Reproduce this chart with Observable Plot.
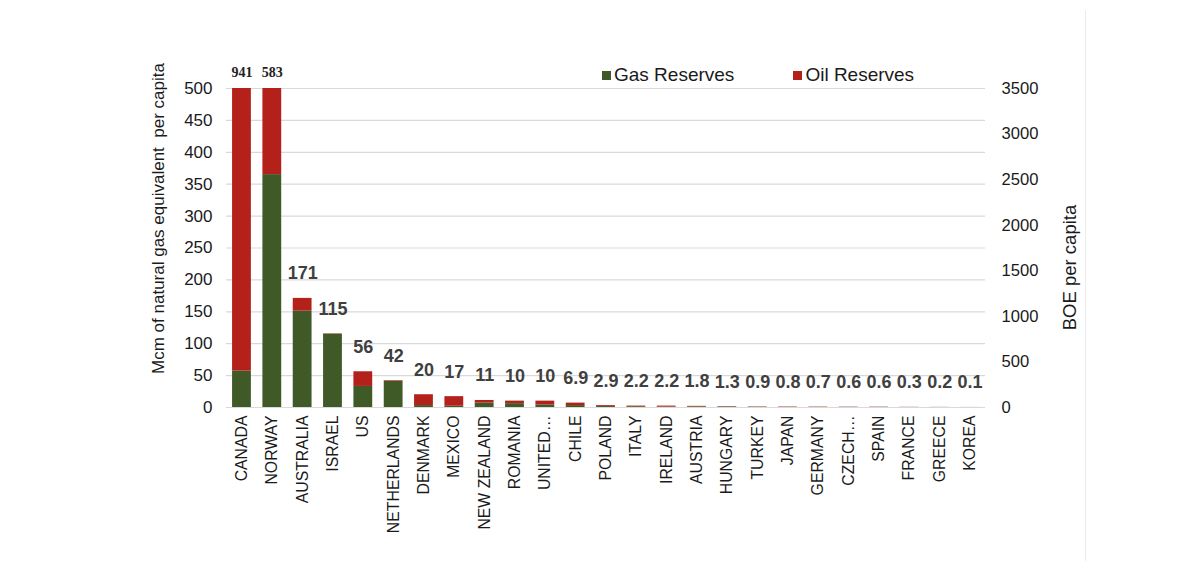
<!DOCTYPE html>
<html>
<head>
<meta charset="utf-8">
<script src="https://cdn.jsdelivr.net/npm/d3@7"></script>
<script src="https://cdn.jsdelivr.net/npm/@observablehq/plot@0.6"></script>
<style>
  html, body { margin: 0; padding: 0; background: #fff; }
  #wrap { position: relative; width: 1200px; height: 561px; overflow: hidden; font-family: Arial, "Liberation Sans", sans-serif; }
  #edge { position: absolute; left: 1085px; top: 10px; width: 1px; height: 551px; background: #ececec; }
  #legend { position: absolute; top: 64px; left: 602px; display: flex; gap: 59px; font-size: 19px; color: #1a1a1a; }
  #legend span.sw { display: inline-block; width: 9px; height: 9px; margin-right: 3px; vertical-align: 1px; }
</style>
</head>
<body>
<div id="wrap">
  <div id="chart"></div>
  <div id="legend"></div>
  <div id="edge"></div>
</div>
<script>
const countries = ["CANADA","NORWAY","AUSTRALIA","ISRAEL","US","NETHERLANDS","DENMARK","MEXICO","NEW ZEALAND","ROMANIA","UNITED…","CHILE","POLAND","ITALY","IRELAND","AUSTRIA","HUNGARY","TURKEY","JAPAN","GERMANY","CZECH…","SPAIN","FRANCE","GREECE","KOREA"];
const totals = [941,583,171,115,56,42,20,17,11,10,10,6.9,2.9,2.2,2.2,1.8,1.3,0.9,0.8,0.7,0.6,0.6,0.3,0.2,0.1];
const totalLabels = ["941","583","171","115","56","42","20","17","11","10","10","6.9","2.9","2.2","2.2","1.8","1.3","0.9","0.8","0.7","0.6","0.6","0.3","0.2","0.1"];
const gasReserves = [57,365,151,115,33,41,3,2,7,6,4,3,1.5,1.2,0.8,1.0,0.9,0.5,0.3,0.3,0.3,0.3,0.1,0.1,0.05];
const oilReserves = [884,218,20,0.5,23,1,17,15,4,4,6,3.9,1.4,1.0,1.4,0.8,0.4,0.4,0.5,0.4,0.3,0.3,0.2,0.1,0.05];
const seriesNames = ["Gas Reserves","Oil Reserves"];
const seriesColors = ["#3f5a27","#b4211b"];
const leftTicks = [0,50,100,150,200,250,300,350,400,450,500];
const rightTicks = [0,500,1000,1500,2000,2500,3000,3500];
const boeRatio = 7;
const yMax = 500;

const stacked = [];
countries.forEach((c, i) => {
  stacked.push({country: c, series: seriesNames[0], value: gasReserves[i]});
  stacked.push({country: c, series: seriesNames[1], value: oilReserves[i]});
});
const labelRows = countries.map((c, i) => ({country: c, total: totals[i], label: totalLabels[i], top: Math.min(totals[i], yMax), clipped: totals[i] > yMax}));

const chart = Plot.plot({
  width: 1200,
  height: 561,
  marginLeft: 226,
  marginRight: 215,
  marginTop: 88,
  marginBottom: 154,
  style: {fontFamily: "Arial, 'Liberation Sans', sans-serif", color: "#1a1a1a", background: "#fff"},
  x: {domain: countries, paddingInner: 0.38, paddingOuter: 0.2, round: false, label: null},
  y: {domain: [0, yMax], clamp: true, label: null},
  color: {domain: seriesNames, range: seriesColors},
  marks: [
    Plot.gridY(leftTicks, {stroke: "#d9d9d9", strokeOpacity: 1, strokeWidth: 1.2}),
    Plot.barY(stacked, {x: "country", y: "value", fill: "series", order: seriesNames}),
    Plot.axisY({ticks: leftTicks, tickSize: 0, tickPadding: 14, fontSize: 17, label: null}),
    Plot.axisY({anchor: "right", ticks: rightTicks.map(t => t / boeRatio), tickFormat: d => String(Math.round(d * boeRatio)), tickSize: 0, tickPadding: 16, fontSize: 16.6, label: null, textAnchor: "start"}),
    Plot.axisX({tickSize: 0, tickPadding: 8, tickRotate: -90, fontSize: 15.8, label: null}),
    Plot.text(labelRows.filter(d => !d.clipped), {x: "country", y: "top", text: "label", dy: -19, lineAnchor: "bottom", fontSize: 18, fontWeight: "bold", fill: "#404040"}),
    Plot.text(labelRows.filter(d => d.clipped), {x: "country", y: "top", text: "label", dy: -12, lineAnchor: "bottom", fontSize: 14, fontWeight: "bold", fill: "#222", fontFamily: "'Liberation Serif', 'DejaVu Serif', serif"}),
    Plot.text(["Mcm of natural gas equivalent  per capita"], {frameAnchor: "left", textAnchor: "middle", dx: -68, dy: -29.5, rotate: -90, fontSize: 17, fill: "#1a1a1a"}),
    Plot.text(["BOE per capita"], {frameAnchor: "right", textAnchor: "middle", dx: 85, dy: 19.5, rotate: -90, fontSize: 18.5, fill: "#1a1a1a"})
  ]
});
document.getElementById("chart").appendChild(chart);

const legend = document.getElementById("legend");
seriesNames.forEach((name, i) => {
  const item = document.createElement("div");
  item.innerHTML = `<span class="sw" style="background:${seriesColors[i]}"></span>${name}`;
  legend.appendChild(item);
});
</script>
</body>
</html>
